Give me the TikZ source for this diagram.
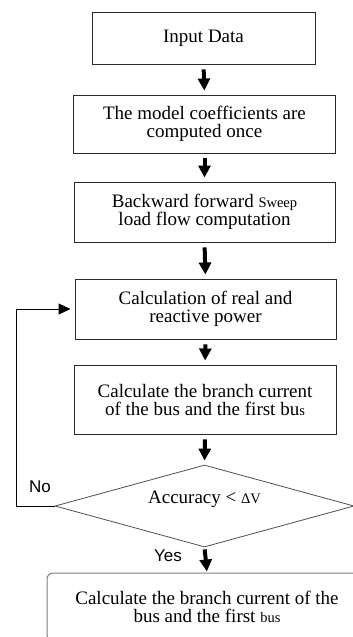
\documentclass[tikz,border=0pt]{standalone}
\usepackage{fontspec}
\setmainfont{Liberation Serif}
\newfontfamily\arialfont{Liberation Sans}
\usetikzlibrary{arrows.meta,shapes.geometric}
\definecolor{boxline}{HTML}{2A2A2A}
\definecolor{diamline}{HTML}{505050}
\definecolor{endline}{HTML}{808080}
\newcommand{\smallpart}[1]{{\fontsize{14.5}{17}\selectfont #1}}
\begin{document}
\begin{tikzpicture}[x=1pt,y=-1pt,
  procbox/.style={draw=boxline, line width=0.9pt, rectangle, align=center, inner sep=0pt,
    font=\fontsize{19}{18}\selectfont},
  decision/.style={draw=diamline, line width=0.8pt, diamond, aspect=3.65, inner sep=0pt,
    font=\fontsize{19}{18}\selectfont, text height=14pt, text depth=20pt},
  endbox/.style={draw=endline, line width=1pt, rectangle, rounded corners=6pt, align=center, inner sep=0pt,
    font=\fontsize{19}{18}\selectfont},
  flowarrow/.style={line width=4pt, -{Triangle[width=12pt,length=12pt]}, shorten <=5pt, shorten >=4pt},
  looparrow/.style={draw=black, line width=0.9pt, -{Triangle[width=11pt,length=12pt]}, shorten >=4pt},
  branchlabel/.style={font=\arialfont\fontsize{17}{19}\selectfont, inner sep=0pt}
]
\useasboundingbox (0,0) rectangle (353,637);

\node[procbox, minimum width=223pt, minimum height=52pt] (input) at (203.5,38) {Input Data};
\node[procbox, minimum width=262pt, minimum height=58pt] (coef) at (204.5,124) {The model coefficients are\\computed once};
\node[procbox, minimum width=261pt, minimum height=60pt] (sweep) at (204.5,212) {Backward forward \smallpart{Sweep}\\load flow computation};
\node[procbox, minimum width=261pt, minimum height=60pt] (calc) at (205.5,309) {Calculation of real and\\reactive power};
\node[procbox, minimum width=262pt, minimum height=69pt] (branch) at (205,399.5) {Calculate the branch current\\of the bus and the first bu\smallpart{s}};
\node[decision, minimum width=299pt, minimum height=82pt] (dec) at (204.5,506) {Accuracy < \smallpart{ΔV}};
\node[endbox, minimum width=320pt, minimum height=68pt] (final) at (207,607) {Calculate the branch current of the\\bus and the first \smallpart{bus}};

\draw[flowarrow] (input.south) -- (coef.north);
\draw[flowarrow] (coef.south) -- (sweep.north);
\draw[flowarrow] (sweep.south) -- (calc.north);
\draw[flowarrow] (calc.south) -- (branch.north);
\draw[flowarrow] (branch.south) -- (dec.north);
\draw[flowarrow, shorten <=2pt, shorten >=1pt] (dec.south) -- (final.north);

\coordinate (loopcorner) at (16,506);
\draw[looparrow] (dec.west) -- (loopcorner) |- (calc.west);

\node[branchlabel] (nolabel) at (40,487) {No};
\node[branchlabel] (yeslabel) at (168,556) {Yes};
\end{tikzpicture}
\end{document}
